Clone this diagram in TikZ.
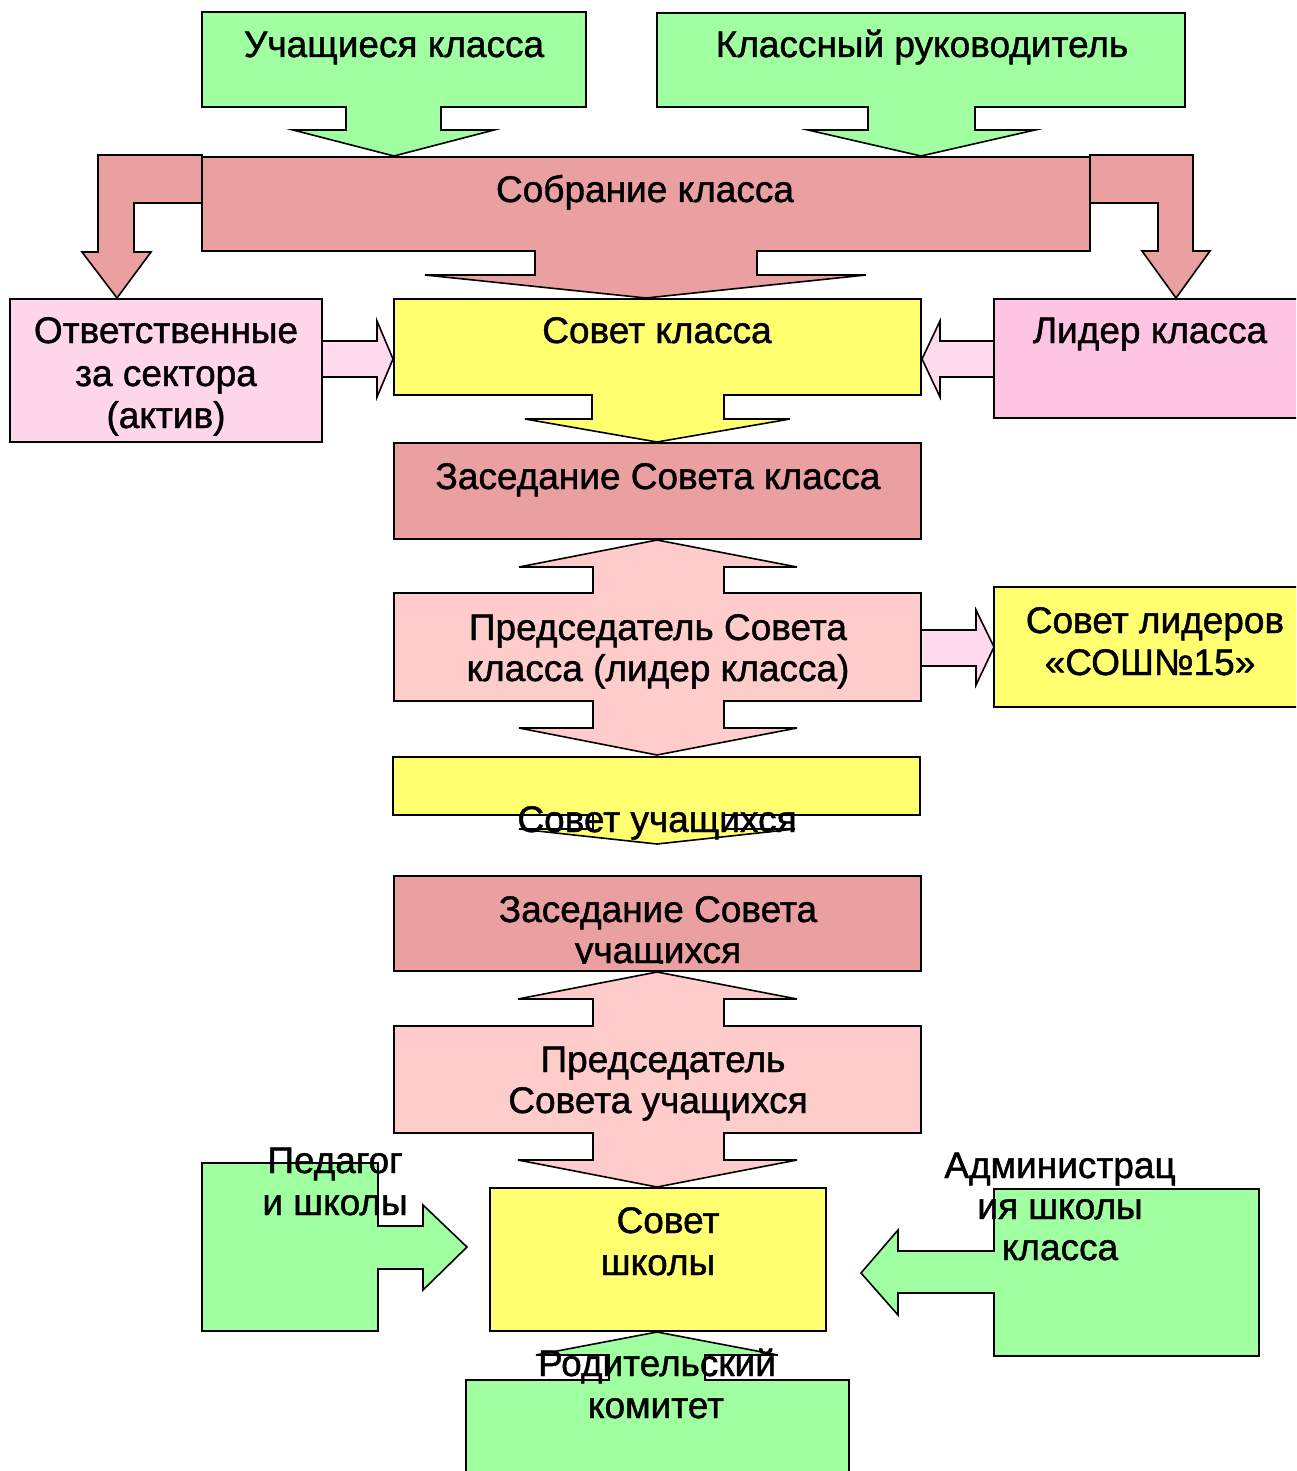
\documentclass[tikz,border=0pt]{standalone}
\usepackage{fontspec}
\setmainfont{Liberation Sans}
\newfontfamily\lblfont{Liberation Sans}[FakeBold=1.2]
\definecolor{cgreen}{HTML}{A0FFA0}
\definecolor{csalmon}{HTML}{EAA0A0}
\definecolor{cyellow}{HTML}{FFFF70}
\definecolor{cpinkA}{HTML}{FFD6EA}
\definecolor{cpinkArr}{HTML}{FFD9EC}
\definecolor{cpinkB}{HTML}{FFC4E4}
\definecolor{crose}{HTML}{FFCCCC}
\begin{document}
\begin{tikzpicture}[x=1pt,y=-1pt,line join=miter,
  shp/.style={draw=black,line width=1.6pt},
  lbl/.style={font=\lblfont\fontsize{37}{42}\selectfont,inner sep=0pt,anchor=base}]
\useasboundingbox (0,0) rectangle (1296,1471);
\clip (0,0) rectangle (1296,1471);

% ---- Учащиеся класса (down arrow callout)
\path[shp,fill=cgreen] (202,12) -- (586,12) -- (586,107) -- (441,107) -- (441,130) -- (494,130)
  -- (394,156) -- (293,130) -- (346,130) -- (346,107) -- (202,107) -- cycle;
\node[lbl] (uch) at (394,57) {Учащиеся класса};

% ---- Классный руководитель
\path[shp,fill=cgreen] (657,13) -- (1185,13) -- (1185,107) -- (975,107) -- (975,130) -- (1035,130)
  -- (921,156) -- (808,130) -- (868,130) -- (868,107) -- (657,107) -- cycle;
\node[lbl] (ruk) at (922,57) {Классный руководитель};

% ---- bent arrows of Собрание класса
\path[shp,fill=csalmon] (202,155) -- (98,155) -- (98,252) -- (82,252) -- (117,298) -- (151,252)
  -- (134,252) -- (134,203) -- (202,203) -- cycle;
\path[shp,fill=csalmon] (1090,155) -- (1193,155) -- (1193,251) -- (1210,251) -- (1176,298)
  -- (1142,251) -- (1158,251) -- (1158,203) -- (1090,203) -- cycle;

% ---- Собрание класса
\path[shp,fill=csalmon] (202,157) -- (1090,157) -- (1090,251) -- (757,251) -- (757,275) -- (866,275)
  -- (646,298) -- (425,275) -- (535,275) -- (535,251) -- (202,251) -- cycle;
\node[lbl] (sobr) at (645,202) {Собрание класса};

% ---- Ответственные за сектора + right arrow
\path[shp,fill=cpinkArr] (318,341) -- (377,341) -- (377,321) -- (393,359)
  -- (377,397) -- (377,377) -- (318,377) -- cycle;
\path[shp,fill=cpinkA] (10,299) rectangle (322,442);
\node[lbl] (otv1) at (166,343) {Ответственные};
\node[lbl] (otv2) at (166,386) {за сектора};
\node[lbl] (otv3) at (166,428) {(актив)};

% ---- Лидер класса + left arrow
\path[shp,fill=cpinkArr] (998,341) -- (940,341) -- (940,321) -- (922,359)
  -- (940,397) -- (940,377) -- (998,377) -- cycle;
\path[shp,fill=cpinkB] (994,299) rectangle (1310,418);
\node[lbl] (lid) at (1150,343) {Лидер класса};

% ---- Совет класса
\path[shp,fill=cyellow] (394,299) -- (921,299) -- (921,395) -- (724,395) -- (724,419) -- (790,419)
  -- (657,442) -- (525,419) -- (592,419) -- (592,395) -- (394,395) -- cycle;
\node[lbl] (sovk) at (657,343) {Совет класса};

% ---- Заседание Совета класса
\path[shp,fill=csalmon] (394,443) rectangle (921,539);
\node[lbl] (zask) at (658,489) {Заседание Совета класса};

% ---- arrow to Совет лидеров
\path[shp,fill=cpinkArr] (917,630) -- (976,630) -- (976,610) -- (994,647)
  -- (976,685) -- (976,666) -- (917,666) -- cycle;

% ---- Председатель Совета класса (up-down arrow callout)
\path[shp,fill=crose] (394,593) -- (593,593) -- (593,567) -- (519,567) -- (657,540) -- (797,567)
  -- (724,567) -- (724,593) -- (921,593) -- (921,701) -- (724,701) -- (724,728) -- (797,728)
  -- (657,755) -- (519,728) -- (593,728) -- (593,701) -- (394,701) -- cycle;
\node[lbl] (pred1) at (658,640) {Председатель Совета};
\node[lbl] (pred2) at (658,681) {класса (лидер класса)};

% ---- Совет лидеров
\path[shp,fill=cyellow] (994,587) rectangle (1310,707);
\node[lbl] (lidr1) at (1155,633) {Совет лидеров};
\node[lbl] (lidr2) at (1150,675) {«СОШ№15»};

% ---- Совет учащихся
\path[shp,fill=cyellow] (393,757) -- (920,757) -- (920,815) -- (723,815) -- (723,829) -- (795,829)
  -- (657,844) -- (519,829) -- (593,829) -- (593,815) -- (393,815) -- cycle;
\node[lbl] (sovu) at (657,832) {Совет учащихся};

% ---- Заседание Совета учащихся
\path[shp,fill=csalmon] (394,876) rectangle (921,971);
\node[lbl] (zasu1) at (658,922) {Заседание Совета};
\begin{scope}
\clip (394,930) rectangle (921,963);
\node[lbl] (zasu2) at (658,963) {учащихся};
\end{scope}

% ---- Председатель Совета учащихся
\path[shp,fill=crose] (394,1026) -- (593,1026) -- (593,999) -- (518,999) -- (657,972) -- (797,999)
  -- (724,999) -- (724,1026) -- (921,1026) -- (921,1133) -- (724,1133) -- (724,1160) -- (797,1160)
  -- (657,1187) -- (518,1160) -- (593,1160) -- (593,1133) -- (394,1133) -- cycle;
\node[lbl] (predu1) at (663,1072) {Председатель};
\node[lbl] (predu2) at (658,1113) {Совета учащихся};

% ---- Совет школы
\path[shp,fill=cyellow] (490,1188) rectangle (826,1331);
\node[lbl] (sovsh1) at (668,1233) {Совет};
\node[lbl] (sovsh2) at (658,1275) {школы};

% ---- Педагоги школы (right arrow callout)
\path[shp,fill=cgreen] (202,1163) -- (378,1163) -- (378,1226) -- (423,1226) -- (423,1205) -- (467,1247)
  -- (423,1290) -- (423,1269) -- (378,1269) -- (378,1331) -- (202,1331) -- cycle;
\node[lbl] (ped1) at (335,1173) {Педагог};
\node[lbl] (ped2) at (335,1215) {и школы};

% ---- Администрация школы (left arrow callout)
\path[shp,fill=cgreen] (1259,1189) -- (994,1189) -- (994,1251) -- (898,1251) -- (898,1230) -- (861,1273)
  -- (898,1315) -- (898,1293) -- (994,1293) -- (994,1356) -- (1259,1356) -- cycle;
\node[lbl] (adm1) at (1060,1178) {Администрац};
\node[lbl] (adm2) at (1060,1219) {ия школы};
\node[lbl] (adm3) at (1060,1260) {класса};

% ---- Родительский комитет (up arrow callout)
\path[shp,fill=cgreen] (466,1380) -- (609,1380) -- (609,1355) -- (536,1355) -- (657,1332) -- (778,1355)
  -- (705,1355) -- (705,1380) -- (849,1380) -- (849,1490) -- (466,1490) -- cycle;
\node[lbl] (rod1) at (657,1376) {Родительский};
\begin{scope}
\clip (466,1382) rectangle (849,1418);
\node[lbl] (rod2) at (656,1418) {комитет};
\end{scope}
\end{tikzpicture}
\end{document}
